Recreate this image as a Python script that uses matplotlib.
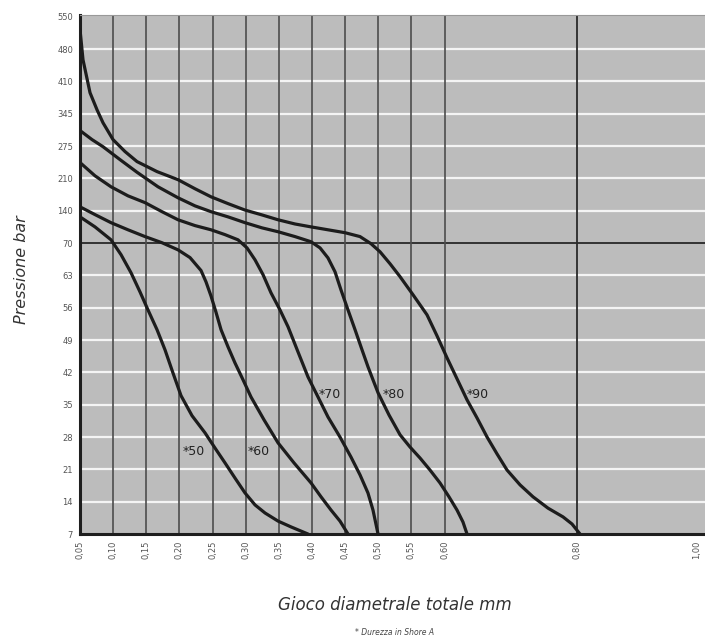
import matplotlib.pyplot as plt

# scala delle pressioni (asse y a passi uguali, valori non lineari)
pressioni = ['7', '14', '21', '28', '35', '42', '49', '56', '63', '70',
             '140', '210', '275', '345', '410', '480', '550']
giochi = [0.05, 0.10, 0.15, 0.20, 0.25, 0.30, 0.35, 0.40, 0.45, 0.50,
          0.55, 0.60, 0.80, 1.00]
giochi_lbl = ['0,05', '0,10', '0,15', '0,20', '0,25', '0,30', '0,35', '0,40',
              '0,45', '0,50', '0,55', '0,60', '0,80', '1,00']

# curve: x = gioco mm, y = posizione sulla scala pressioni
x50 = [0.05, 0.0726, 0.0968, 0.1119, 0.127, 0.1405, 0.1526, 0.1662, 0.1782, 0.1903,
       0.2024, 0.219, 0.2386, 0.2537, 0.2688, 0.2839, 0.299, 0.3141, 0.3292, 0.3488,
       0.3684, 0.394]
y50 = [9.81, 9.50, 9.10, 8.64, 8.08, 7.49, 6.93, 6.32, 5.70, 4.98,
       4.28, 3.66, 3.13, 2.66, 2.20, 1.73, 1.27, 0.90, 0.65, 0.40,
       0.22, 0.0]

x60 = [0.05, 0.0726, 0.0968, 0.1224, 0.1481, 0.1737, 0.1979, 0.216, 0.2326, 0.2401,
       0.2477, 0.2552, 0.2628, 0.2733, 0.2839, 0.296, 0.308, 0.3277, 0.3488, 0.3729,
       0.3986, 0.4137, 0.4288, 0.4423, 0.4544]
y60 = [10.12, 9.88, 9.63, 9.41, 9.20, 9.01, 8.79, 8.55, 8.15, 7.80,
       7.36, 6.86, 6.32, 5.79, 5.29, 4.77, 4.24, 3.53, 2.82, 2.20,
       1.58, 1.15, 0.74, 0.40, 0.0]

x70 = [0.05, 0.0726, 0.0968, 0.1224, 0.1481, 0.1737, 0.1979, 0.2235, 0.2477, 0.2688,
       0.2884, 0.302, 0.3141, 0.3262, 0.3382, 0.3518, 0.3639, 0.379, 0.394, 0.4091,
       0.4242, 0.4423, 0.4589, 0.4725, 0.4845, 0.4921, 0.4997]
y70 = [11.49, 11.08, 10.74, 10.46, 10.25, 9.97, 9.72, 9.54, 9.41, 9.26,
       9.10, 8.85, 8.48, 8.02, 7.46, 6.93, 6.41, 5.63, 4.86, 4.24,
       3.62, 3.00, 2.38, 1.83, 1.27, 0.74, 0.0]

x80 = [0.05, 0.0681, 0.0847, 0.1104, 0.136, 0.1677, 0.1979, 0.2235, 0.2477, 0.2733,
       0.299, 0.3246, 0.3488, 0.3744, 0.3986, 0.4122, 0.4242, 0.4348, 0.4438, 0.4544,
       0.465, 0.4755, 0.4846, 0.4921, 0.4997, 0.5163, 0.5329, 0.548, 0.5631, 0.5781,
       0.5932, 0.6068, 0.6189, 0.6279, 0.634]
y80 = [12.48, 12.20, 11.98, 11.58, 11.19, 10.74, 10.40, 10.15, 9.97, 9.81,
       9.63, 9.47, 9.35, 9.20, 9.04, 8.85, 8.54, 8.11, 7.55, 6.93,
       6.32, 5.70, 5.17, 4.77, 4.37, 3.68, 3.07, 2.69, 2.35, 1.98,
       1.58, 1.15, 0.74, 0.37, 0.0]

x90 = [0.05, 0.0545, 0.0651, 0.0757, 0.0847, 0.0998, 0.1179, 0.136, 0.1662, 0.1979,
       0.2235, 0.2477, 0.2733, 0.299, 0.3246, 0.3488, 0.3744, 0.3986, 0.4242, 0.4499,
       0.4725, 0.4891, 0.5027, 0.5178, 0.5329, 0.5525, 0.5736, 0.5887, 0.6038, 0.6189,
       0.634, 0.6491, 0.6642, 0.6792, 0.6943, 0.714, 0.7336, 0.7562, 0.7788, 0.7924,
       0.8045]
y90 = [15.60, 14.67, 13.65, 13.12, 12.72, 12.20, 11.83, 11.52, 11.21, 10.96,
       10.68, 10.43, 10.22, 10.02, 9.87, 9.72, 9.59, 9.50, 9.41, 9.32,
       9.20, 8.98, 8.73, 8.36, 7.96, 7.40, 6.78, 6.13, 5.45, 4.80,
       4.15, 3.59, 3.00, 2.48, 1.98, 1.52, 1.15, 0.80, 0.53, 0.31,
       0.0]

etichette = ['*50', '*60', '*70', '*80', '*90']
pos_etichette = [(0.205, 2.55), (0.303, 2.55), (0.410, 4.3), (0.507, 4.3), (0.633, 4.3)]

fig = plt.figure(figsize=(7.05, 6.41), dpi=100)
ax = fig.add_axes([0.1135, 0.1669, 0.8930, 0.8095])
ax.set_facecolor('#bcbcbc')

# griglia orizzontale bianca, linea scura a 70 bar
for i in range(1, 16):
    if i == 9:
        ax.axhline(i, color='#333333', lw=1.4, zorder=2)
    else:
        ax.axhline(i, color='#f4f4f4', lw=1.6, zorder=1)

# linee verticali
for g in giochi[1:12]:
    ax.axvline(g, color='#4d4d4d', lw=1.2, zorder=2)
ax.axvline(0.80, color='#2a2a2a', lw=1.3, zorder=2)

for xs, ys in [(x50, y50), (x60, y60), (x70, y70), (x80, y80), (x90, y90)]:
    ax.plot(xs, ys, color='#1c1c1c', lw=2.3, solid_capstyle='round',
            solid_joinstyle='round', zorder=3)

for lbl, (px, py) in zip(etichette, pos_etichette):
    ax.text(px, py, lbl, fontsize=9, color='#222222', va='center', ha='left', zorder=4)

ax.set_xlim(0.05, 1.0)
ax.set_ylim(0, 16.05)
ax.set_xticks(giochi[:-1])
ax.set_xticklabels(giochi_lbl[:-1], rotation=90, fontsize=6, color='#555555')
# ultima etichetta al bordo destro, spostata dentro la figura
ax.annotate(giochi_lbl[-1], xy=(giochi[-1], 0), xycoords=('data', 'axes fraction'),
            xytext=(-9, -5), textcoords='offset points', rotation=90,
            fontsize=6, color='#555555', ha='center', va='top', annotation_clip=False)
ax.set_yticks(range(len(pressioni)))
ax.set_yticklabels(pressioni, fontsize=6, color='#555555')
ax.tick_params(length=0, pad=5)

for s in ['left', 'bottom']:
    ax.spines[s].set_linewidth(2.2)
    ax.spines[s].set_color('#1e1e1e')
ax.spines['top'].set_color('#999999')
ax.spines['top'].set_linewidth(0.8)
ax.spines['right'].set_visible(False)

fig.text(0.031, 0.58, 'Pressione bar', rotation=90, fontsize=11.5, style='italic',
         color='#333333', ha='center', va='center')
fig.text(0.56, 0.056, 'Gioco diametrale totale mm', fontsize=12, style='italic',
         color='#333333', ha='center', va='center')
fig.text(0.56, 0.014, '* Durezza in Shore A', fontsize=5.5, style='italic',
         color='#444444', ha='center', va='center')

fig.savefig('out.png', dpi=100, facecolor='white')
